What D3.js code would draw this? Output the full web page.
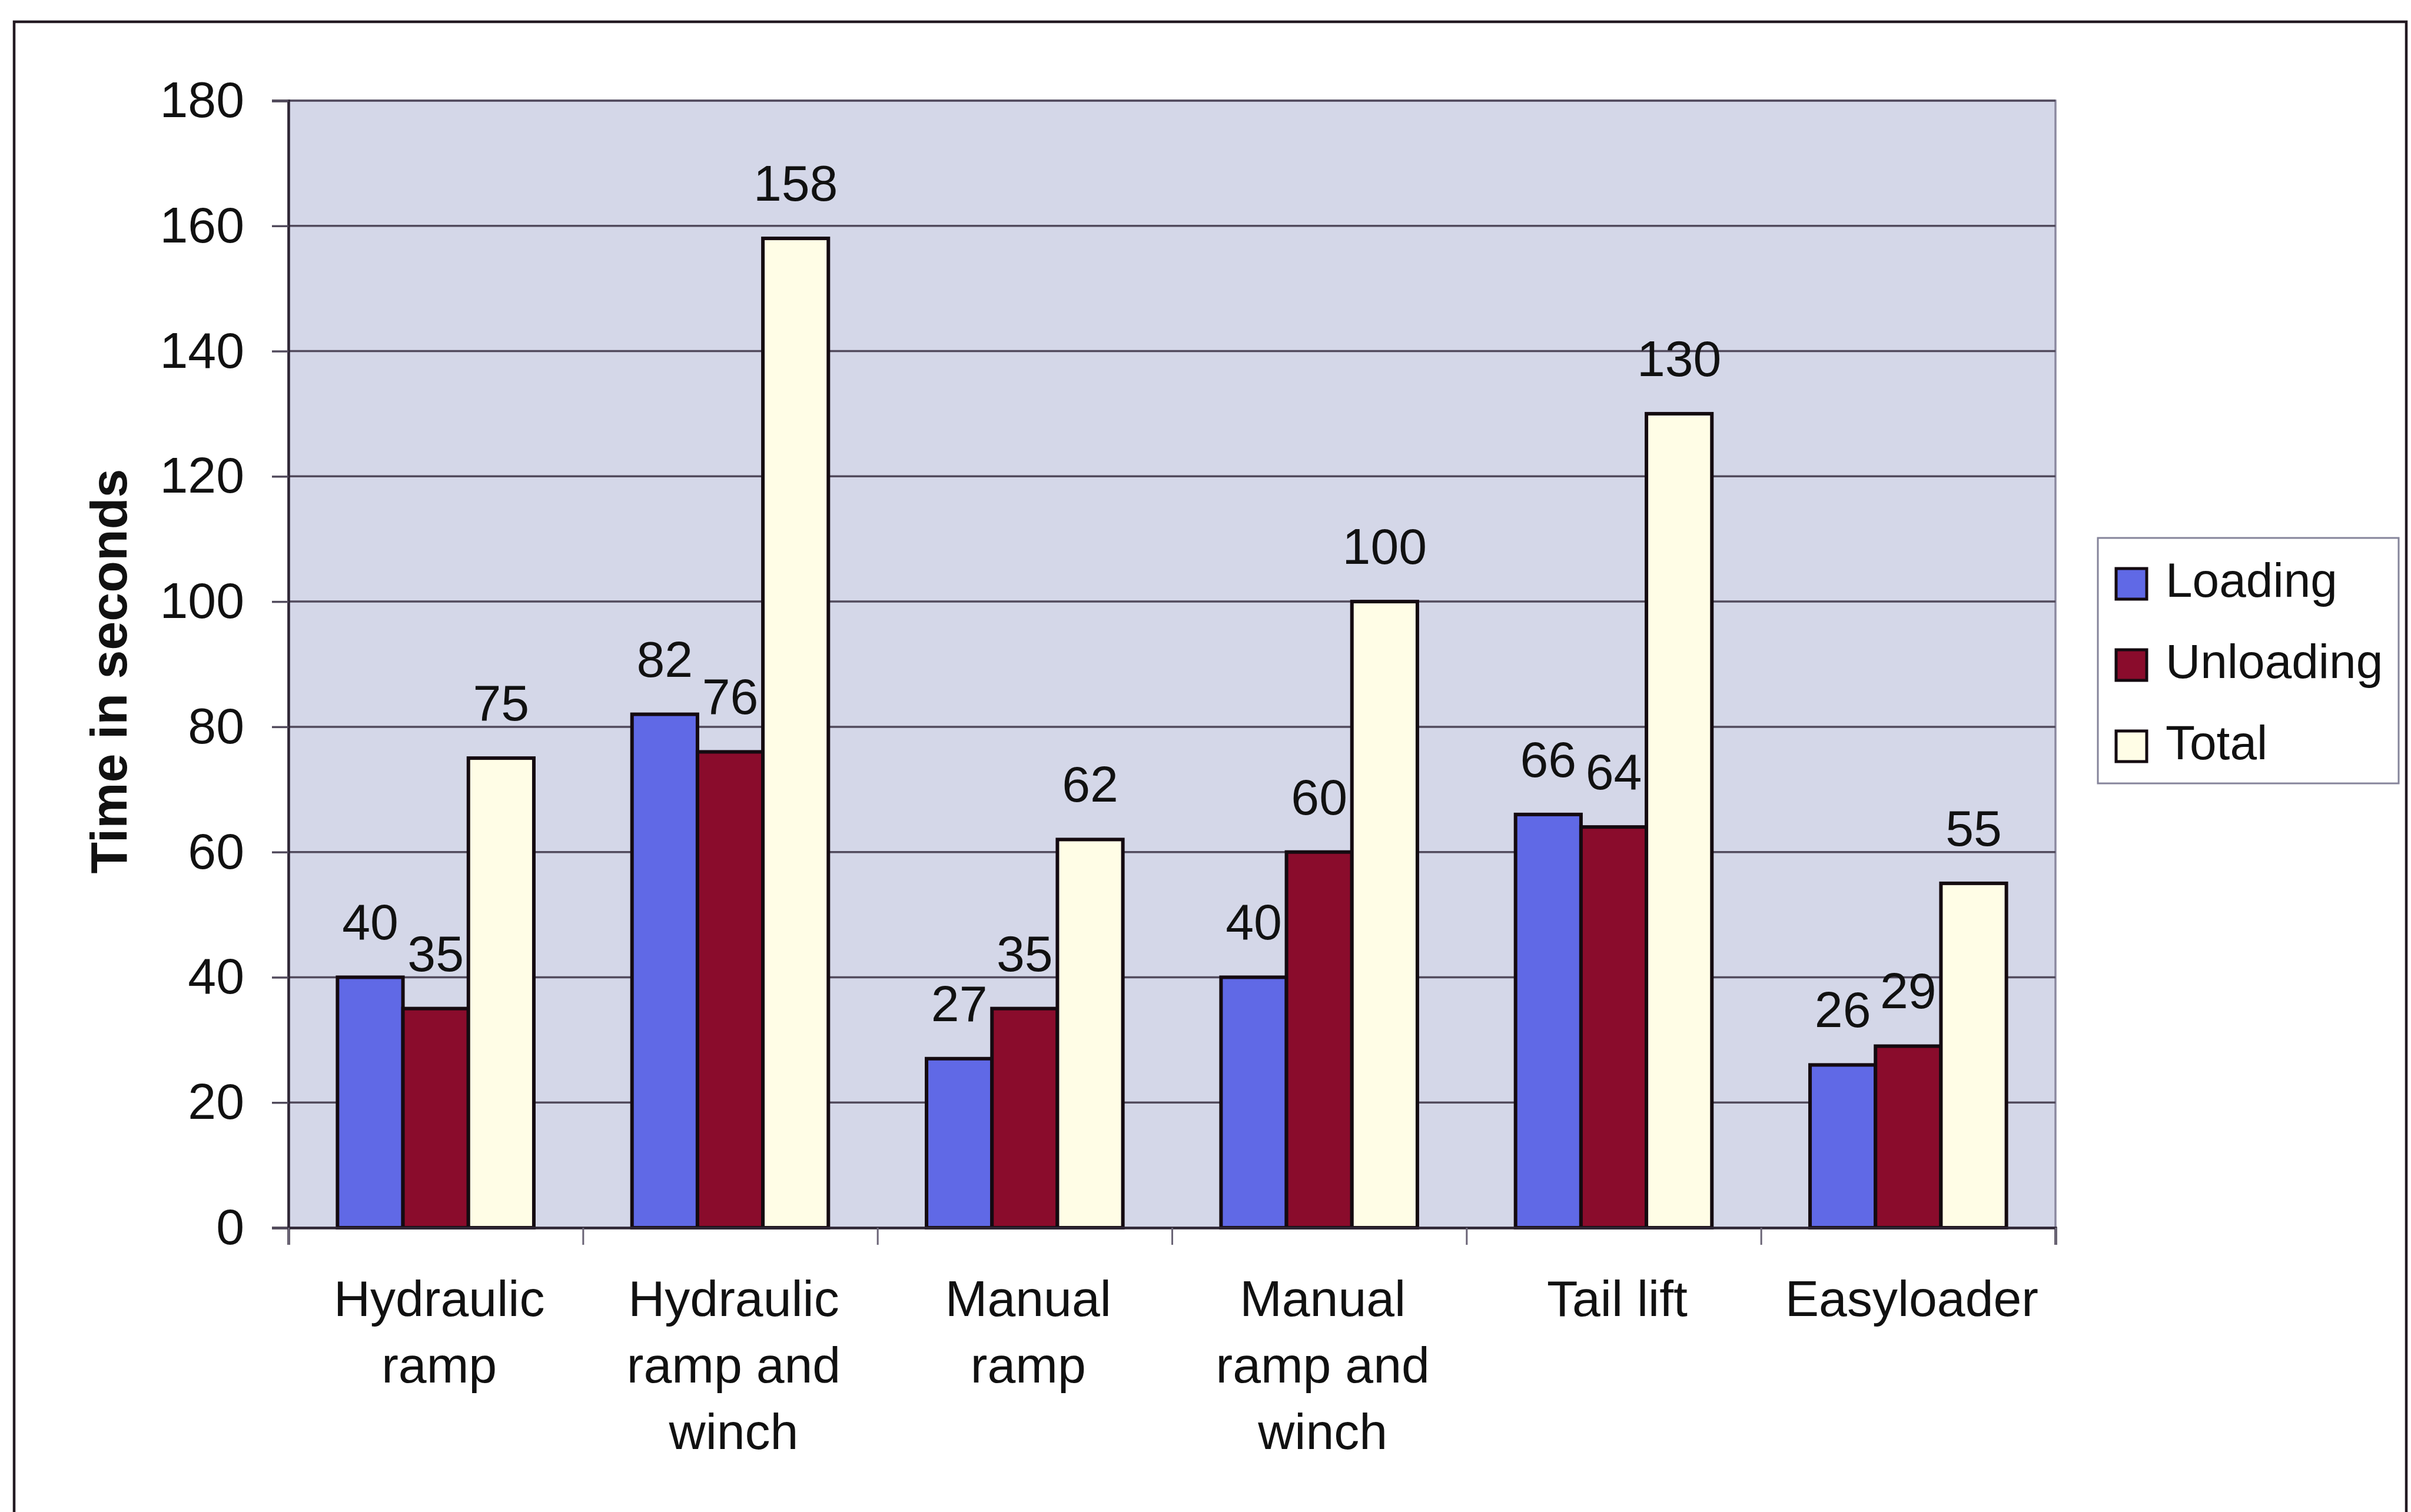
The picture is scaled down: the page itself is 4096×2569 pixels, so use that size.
<!DOCTYPE html>
<html>
<head>
<meta charset="utf-8">
<script src="https://cdn.jsdelivr.net/npm/d3@7"></script>
<style>
  body { margin: 0; background: white; }
  svg text { font-family: "Liberation Sans", Arial, sans-serif; fill: #111; }
</style>
</head>
<body>
<svg id="my-svg"></svg>
<script>
// data
const categories = ["Hydraulic\nramp", "Hydraulic\nramp and\nwinch", "Manual\nramp", "Manual\nramp and\nwinch", "Tail lift", "Easyloader"];
const series = ["Loading", "Unloading", "Total"];
const loading = [40, 82, 27, 40, 66, 26];
const unloading = [35, 76, 35, 60, 64, 29];
const total = [75, 158, 62, 100, 130, 55];
const yTicks = [0, 20, 40, 60, 80, 100, 120, 140, 160, 180];
const colors = ["#6069e6", "#8a0c2c", "#fffde6"];

const width = 4096, height = 2569;
const plotL = 490, plotR = 3492, plotT = 171, plotB = 2086;

const svg = d3.select("#my-svg")
    .attr("width", width)
    .attr("height", height);

// outer frame (bottom edge runs off the page)
svg.append("path")
    .attr("d", `M24,${height + 10} L24,37 L4088,37 L4088,${height + 10}`)
    .attr("fill", "none")
    .attr("stroke", "#231a22")
    .attr("stroke-width", 4.5);

const x0 = d3.scaleBand()
    .domain(categories)
    .range([plotL, plotR])
    .padding(0);
const bw = x0.bandwidth();
const x1 = d3.scaleBand()
    .domain(series)
    .range([bw * 0.75 / 4.5, bw * 3.75 / 4.5]);

const y = d3.scaleLinear()
    .domain([0, 180])
    .range([plotB, plotT]);

// plot area
svg.append("rect")
    .attr("x", plotL)
    .attr("y", plotT)
    .attr("width", plotR - plotL)
    .attr("height", plotB - plotT)
    .attr("fill", "#d4d7e8")
    .attr("stroke", "#8c89a0")
    .attr("stroke-width", 3.5);

svg.append("g")
    .selectAll("line")
    .data(yTicks.filter(d => d > 0))
    .join("line")
        .attr("x1", plotL)
        .attr("x2", plotR)
        .attr("y1", d => y(d))
        .attr("y2", d => y(d))
        .attr("stroke", "#514a5c")
        .attr("stroke-width", 3.5);

// bars
const rows = categories.map((c, i) => ({cat: c, vals: [loading[i], unloading[i], total[i]]}));

const groups = svg.append("g")
    .selectAll("g")
    .data(rows)
    .join("g")
        .attr("transform", d => `translate(${x0(d.cat)},0)`);

groups.selectAll("rect")
    .data(d => d.vals.map((v, j) => ({key: series[j], value: v, j: j})))
    .join("rect")
        .attr("x", d => x1(d.key))
        .attr("y", d => y(d.value))
        .attr("width", x1.bandwidth())
        .attr("height", d => y(0) - y(d.value))
        .attr("fill", d => colors[d.j])
        .attr("stroke", "#140a10")
        .attr("stroke-width", 6);

groups.selectAll("text")
    .data(d => d.vals.map((v, j) => ({key: series[j], value: v})))
    .join("text")
        .attr("x", d => x1(d.key) + x1.bandwidth() / 2)
        .attr("y", d => y(d.value) - 64)
        .attr("text-anchor", "middle")
        .style("font-size", "86px")
        .text(d => d.value);

// y axis
const yAxis = svg.append("g")
    .attr("transform", `translate(${plotL},0)`)
    .call(d3.axisLeft(y).tickValues(yTicks).tickSize(28).tickPadding(47));
yAxis.select(".domain").attr("stroke", "#2e2634").attr("stroke-width", 4.5);
yAxis.selectAll(".tick line").attr("stroke", "#514a5c").attr("stroke-width", 3.5);
yAxis.selectAll(".tick text").style("font-size", "86px").attr("fill", "#111");

svg.append("text")
    .attr("transform", `translate(184,${(plotT + plotB) / 2 + 12}) rotate(-90)`)
    .attr("text-anchor", "middle")
    .attr("dominant-baseline", "central")
    .style("font-size", "88px")
    .style("font-weight", "bold")
    .text("Time in seconds");

// x axis, ticks between categories
const xb = d3.scaleLinear().domain([0, categories.length]).range([plotL, plotR]);
const xAxis = svg.append("g")
    .attr("transform", `translate(0,${plotB})`)
    .call(d3.axisBottom(xb).tickValues(d3.range(categories.length + 1)).tickSize(29).tickFormat(""));
xAxis.select(".domain").attr("stroke", "#2e2634").attr("stroke-width", 4.5);
xAxis.selectAll(".tick line").attr("stroke", "#6a6476").attr("stroke-width", 3);

svg.append("g")
    .selectAll("text")
    .data(categories)
    .join("text")
        .attr("x", d => x0(d) + bw / 2 + 6)
        .attr("y", plotB + 150)
        .attr("text-anchor", "middle")
        .style("font-size", "86px")
        .selectAll("tspan")
        .data(d => d.split("\n"))
        .join("tspan")
            .attr("x", function () { return this.parentNode.getAttribute("x"); })
            .attr("dy", (d, i) => i === 0 ? 0 : 113)
            .text(d => d);

// legend
const legend = svg.append("g");
legend.append("rect")
    .attr("x", 3564)
    .attr("y", 914)
    .attr("width", 511)
    .attr("height", 417)
    .attr("fill", "white")
    .attr("stroke", "#85849a")
    .attr("stroke-width", 3);

legend.selectAll(".sw")
    .data(series)
    .join("rect")
        .attr("class", "sw")
        .attr("x", 3595)
        .attr("y", (d, i) => 992 + i * 138 - 26)
        .attr("width", 52)
        .attr("height", 52)
        .attr("fill", (d, i) => colors[i])
        .attr("stroke", "#140a10")
        .attr("stroke-width", 5);

legend.selectAll("text")
    .data(series)
    .join("text")
        .attr("x", 3679)
        .attr("y", (d, i) => 992 + i * 138 + 22)
        .style("font-size", "82px")
        .text(d => d);
</script>
</body>
</html>
